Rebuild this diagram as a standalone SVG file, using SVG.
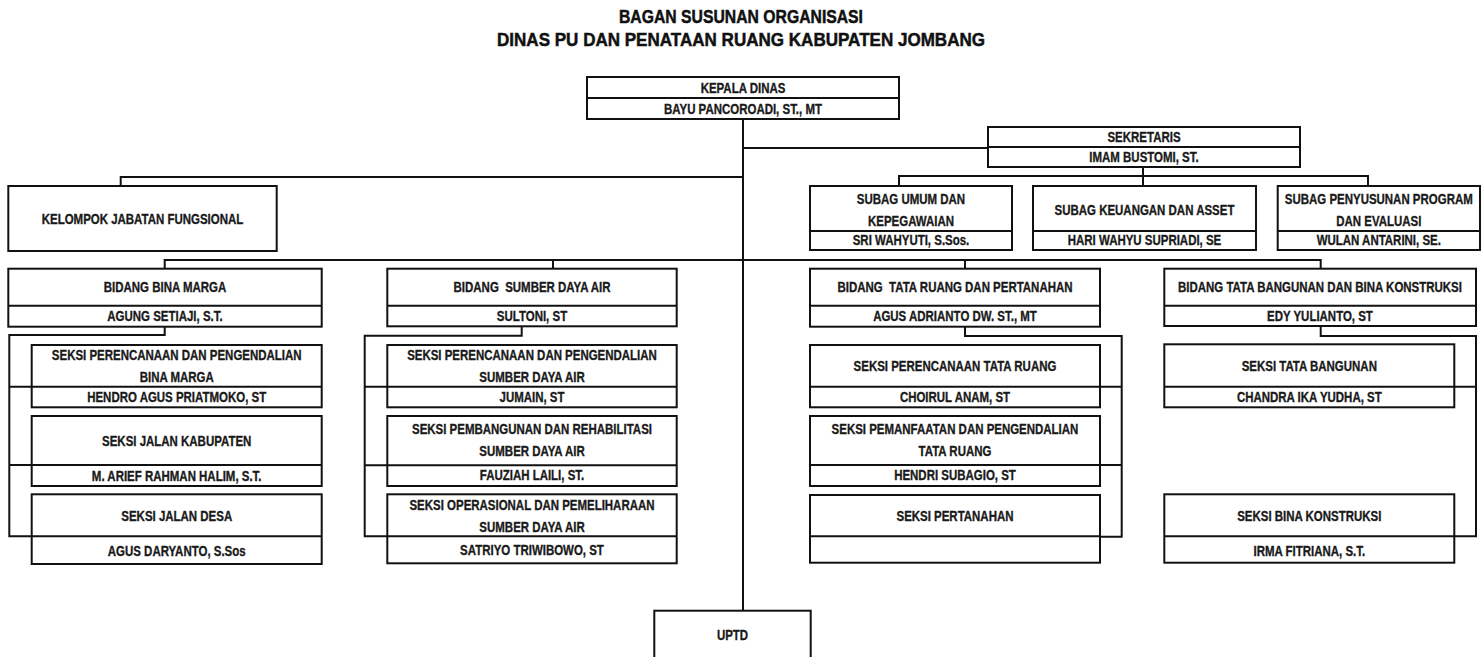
<svg xmlns="http://www.w3.org/2000/svg" width="1483" height="657" viewBox="0 0 1483 657">
<style>
  .bx { fill: #fff; stroke: #111; stroke-width: 2; }
  .dv { stroke: #111; stroke-width: 2; fill: none; }
  .cn { stroke: #111; stroke-width: 2; fill: none; }
  text { font-family: "Liberation Sans", Arial, sans-serif; font-weight: bold; font-size: 15px; fill: #1a1a1a; stroke: #1a1a1a; stroke-width: 0.35; text-anchor: middle; white-space: pre; transform-box: fill-box; transform-origin: center; transform: scaleX(0.765); }
  .ttl { font-size: 19px; fill: #111; stroke: #111; stroke-width: 0.5; transform: none; }
</style>
<rect width="1483" height="657" fill="#fff"/>
<g id="title">
  <text class="ttl" x="741" y="23" textLength="244" lengthAdjust="spacingAndGlyphs">BAGAN SUSUNAN ORGANISASI</text>
  <text class="ttl" x="741" y="45.5" textLength="488" lengthAdjust="spacingAndGlyphs">DINAS PU DAN PENATAAN RUANG KABUPATEN JOMBANG</text>
</g>
<g id="connectors">
  <path class="cn" d="M743,119 V611"/>
  <path class="cn" d="M743,148 H988"/>
  <path class="cn" d="M743,177 H120.7 V186"/>
  <path class="cn" d="M1143,167 V186"/>
  <path class="cn" d="M899,186 V176 H1368 V186"/>
  <path class="cn" d="M164.7,268.7 V260 H1320.7 V268.7"/>
  <path class="cn" d="M553,260 V268.7"/>
  <path class="cn" d="M965,260 V268.7"/>
  <path class="cn" d="M164.7,326.7 V335 H9.3 V536.3 H31.7 M9.3,386.7 H31.7 M9.3,465 H31.7"/>
  <path class="cn" d="M521.7,326.3 V335.7 H364.7 V536.3 H387.3 M364.7,386.7 H387.3 M364.7,465.3 H387.3"/>
  <path class="cn" d="M965,326.7 V336 H1121.7 V536.7 H1100 M1121.7,386.7 H1100 M1121.7,465 H1100"/>
  <path class="cn" d="M1320.7,326 V336 H1476 V536.3 H1454.3 M1476,386.7 H1454.3"/>
</g>
<g id="kepala">
  <rect class="bx" x="587" y="77" width="312" height="42"/>
  <path class="dv" d="M587,98 H899"/>
  <text x="743" y="93">KEPALA DINAS</text>
  <text x="743" y="114">BAYU PANCOROADI, ST., MT</text>
</g>
<g id="sekretaris">
  <rect class="bx" x="988" y="127" width="312" height="40"/>
  <path class="dv" d="M988,147 H1300"/>
  <text x="1144" y="142.5">SEKRETARIS</text>
  <text x="1144" y="162.5">IMAM BUSTOMI, ST.</text>
</g>
<g id="kelompok">
  <rect class="bx" x="8.3" y="186" width="268.4" height="65"/>
  <text x="142.5" y="224">KELOMPOK JABATAN FUNGSIONAL</text>
</g>
<g id="subag-umum">
  <rect class="bx" x="810" y="186" width="202" height="64"/>
  <path class="dv" d="M810,231 H1012"/>
  <text x="911" y="204">SUBAG UMUM DAN</text>
  <text x="911" y="226">KEPEGAWAIAN</text>
  <text x="911" y="245.5">SRI WAHYUTI, S.Sos.</text>
</g>
<g id="subag-keuangan">
  <rect class="bx" x="1033" y="186" width="223" height="64"/>
  <path class="dv" d="M1033,231 H1256"/>
  <text x="1144.5" y="215">SUBAG KEUANGAN DAN ASSET</text>
  <text x="1144.5" y="245.5">HARI WAHYU SUPRIADI, SE</text>
</g>
<g id="subag-program">
  <rect class="bx" x="1277.7" y="186" width="202.3" height="64"/>
  <path class="dv" d="M1277.7,231 H1480"/>
  <text x="1378.8" y="204">SUBAG PENYUSUNAN PROGRAM</text>
  <text x="1378.8" y="226">DAN EVALUASI</text>
  <text x="1378.8" y="245.5">WULAN ANTARINI, SE.</text>
</g>
<g id="bidang-bina-marga">
  <rect class="bx" x="8.3" y="268.7" width="313.4" height="58"/>
  <path class="dv" d="M8.3,305.7 H321.7"/>
  <text x="165" y="292.5">BIDANG BINA MARGA</text>
  <text x="165" y="321.5">AGUNG SETIAJI, S.T.</text>
</g>
<g id="bidang-sda">
  <rect class="bx" x="387.3" y="268.7" width="289.4" height="57.6"/>
  <path class="dv" d="M387.3,305.7 H676.7"/>
  <text x="532" y="292.5">BIDANG  SUMBER DAYA AIR</text>
  <text x="532" y="321.5">SULTONI, ST</text>
</g>
<g id="bidang-tata-ruang">
  <rect class="bx" x="810" y="268.7" width="290" height="58"/>
  <path class="dv" d="M810,305.7 H1100"/>
  <text x="955" y="292.5">BIDANG  TATA RUANG DAN PERTANAHAN</text>
  <text x="955" y="321.5">AGUS ADRIANTO DW. ST., MT</text>
</g>
<g id="bidang-tata-bangunan">
  <rect class="bx" x="1164.3" y="268.7" width="311.7" height="57.3"/>
  <path class="dv" d="M1164.3,305.7 H1476"/>
  <text x="1320" y="292.5">BIDANG TATA BANGUNAN DAN BINA KONSTRUKSI</text>
  <text x="1320" y="321.5">EDY YULIANTO, ST</text>
</g>
<g id="seksi-perencanaan-bm">
  <rect class="bx" x="31.7" y="345" width="290" height="62.3"/>
  <path class="dv" d="M31.7,386.7 H321.7"/>
  <text x="176.7" y="360">SEKSI PERENCANAAN DAN PENGENDALIAN</text>
  <text x="176.7" y="382">BINA MARGA</text>
  <text x="176.7" y="402">HENDRO AGUS PRIATMOKO, ST</text>
</g>
<g id="seksi-jalan-kabupaten">
  <rect class="bx" x="31.7" y="416" width="290" height="70"/>
  <path class="dv" d="M31.7,465 H321.7"/>
  <text x="176.7" y="446">SEKSI JALAN KABUPATEN</text>
  <text x="176.7" y="481">M. ARIEF RAHMAN HALIM, S.T.</text>
</g>
<g id="seksi-jalan-desa">
  <rect class="bx" x="31.7" y="494.3" width="290" height="69.7"/>
  <path class="dv" d="M31.7,536.3 H321.7"/>
  <text x="176.7" y="521">SEKSI JALAN DESA</text>
  <text x="176.7" y="556">AGUS DARYANTO, S.Sos</text>
</g>
<g id="seksi-perencanaan-sda">
  <rect class="bx" x="387.3" y="345" width="289.4" height="62.3"/>
  <path class="dv" d="M387.3,386.7 H676.7"/>
  <text x="532" y="360">SEKSI PERENCANAAN DAN PENGENDALIAN</text>
  <text x="532" y="382">SUMBER DAYA AIR</text>
  <text x="532" y="402">JUMAIN, ST</text>
</g>
<g id="seksi-pembangunan-sda">
  <rect class="bx" x="387.3" y="416" width="289.4" height="70"/>
  <path class="dv" d="M387.3,465.3 H676.7"/>
  <text x="532" y="434">SEKSI PEMBANGUNAN DAN REHABILITASI</text>
  <text x="532" y="456">SUMBER DAYA AIR</text>
  <text x="532" y="480.5">FAUZIAH LAILI, ST.</text>
</g>
<g id="seksi-operasional-sda">
  <rect class="bx" x="387.3" y="494.3" width="289.4" height="69"/>
  <path class="dv" d="M387.3,536.3 H676.7"/>
  <text x="532" y="510">SEKSI OPERASIONAL DAN PEMELIHARAAN</text>
  <text x="532" y="532">SUMBER DAYA AIR</text>
  <text x="532" y="555.5">SATRIYO TRIWIBOWO, ST</text>
</g>
<g id="seksi-perencanaan-tr">
  <rect class="bx" x="810" y="345" width="290" height="62.3"/>
  <path class="dv" d="M810,386.7 H1100"/>
  <text x="955" y="371">SEKSI PERENCANAAN TATA RUANG</text>
  <text x="955" y="402">CHOIRUL ANAM, ST</text>
</g>
<g id="seksi-pemanfaatan-tr">
  <rect class="bx" x="810" y="416" width="290" height="70"/>
  <path class="dv" d="M810,465 H1100"/>
  <text x="955" y="434">SEKSI PEMANFAATAN DAN PENGENDALIAN</text>
  <text x="955" y="456">TATA RUANG</text>
  <text x="955" y="480.5">HENDRI SUBAGIO, ST</text>
</g>
<g id="seksi-pertanahan">
  <rect class="bx" x="810" y="495" width="290" height="67.7"/>
  <path class="dv" d="M810,536.3 H1100"/>
  <text x="955" y="521">SEKSI PERTANAHAN</text>
</g>
<g id="seksi-tata-bangunan">
  <rect class="bx" x="1164.3" y="344.3" width="290" height="63"/>
  <path class="dv" d="M1164.3,386.7 H1454.3"/>
  <text x="1309.3" y="371">SEKSI TATA BANGUNAN</text>
  <text x="1309.3" y="402">CHANDRA IKA YUDHA, ST</text>
</g>
<g id="seksi-bina-konstruksi">
  <rect class="bx" x="1164.3" y="494.3" width="290" height="68.4"/>
  <path class="dv" d="M1164.3,536.3 H1454.3"/>
  <text x="1309.3" y="521">SEKSI BINA KONSTRUKSI</text>
  <text x="1309.3" y="556">IRMA FITRIANA, S.T.</text>
</g>
<g id="uptd">
  <rect class="bx" x="654.3" y="610.7" width="156.4" height="52"/>
  <text x="732.5" y="640">UPTD</text>
</g>
</svg>
